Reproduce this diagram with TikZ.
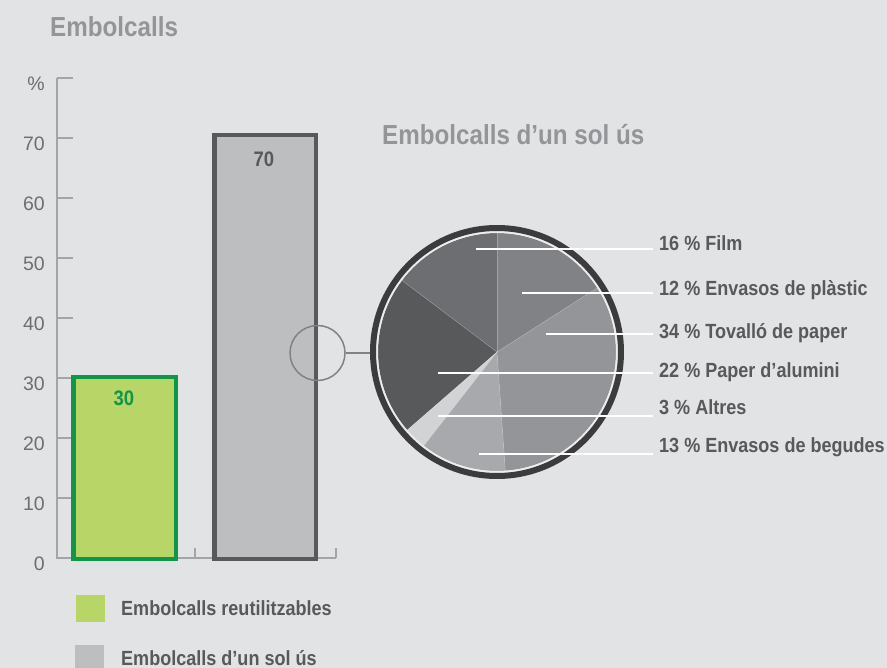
\documentclass[tikz,border=0pt]{standalone}
\usepackage{fontspec}
\setmainfont{Liberation Sans}
\newfontfamily\condfont{Liberation Sans}[FakeStretch=0.88]
\usetikzlibrary{positioning,calc}

\definecolor{bgcol}{HTML}{E2E3E5}
\definecolor{titlegray}{HTML}{939598}
\definecolor{tickgray}{HTML}{6D6E71}
\definecolor{axisgray}{HTML}{A3A5A8}
\definecolor{labgray}{HTML}{58595B}
\definecolor{reusegreen}{HTML}{0F9647}
\definecolor{reusefill}{HTML}{B8D667}
\definecolor{onefill}{HTML}{BCBEC0}
\definecolor{ringdark}{HTML}{3C3C3E}
\definecolor{ringlight}{HTML}{EDEDEE}
\definecolor{loupegray}{HTML}{808285}
\definecolor{filmcol}{HTML}{6D6E71}
\definecolor{placol}{HTML}{808285}
\definecolor{tovcol}{HTML}{939598}
\definecolor{alucol}{HTML}{58595B}
\definecolor{altcol}{HTML}{D1D3D4}
\definecolor{begcol}{HTML}{A7A9AC}

\begin{document}
\begin{tikzpicture}[x=1pt, y=-1pt,
  headtxt/.style={font=\condfont\bfseries\fontsize{27.5}{30}\selectfont, text=titlegray, inner sep=0pt, anchor=base west},
  pielab/.style={font=\condfont\bfseries\fontsize{20.5}{22}\selectfont, text=labgray, inner sep=0pt, anchor=base west},
  barval/.style={font=\condfont\bfseries\fontsize{21}{23}\selectfont, inner sep=0pt, anchor=base},
  ticklab/.style={font=\fontsize{19.5}{21}\selectfont, text=tickgray, inner sep=0pt, anchor=east},
  labline/.style={draw=white, line width=2pt},
  axisline/.style={draw=axisgray, line width=1.5pt}]

% parameters
\def\cx{497}     % pie centre
\def\cy{352}
\def\rpie{119}   % pie radius
\def\yzero{558}  % value 0 on the bar axis
\def\ystep{6}    % px per percent

\fill[bgcol] (0,0) rectangle (887,668);
\useasboundingbox (0,0) rectangle (887,668);

% titles
\node[headtxt] (title) at (50,37) {Embolcalls};
\node[headtxt] (pietitle) at (382,145) {Embolcalls d’un sol ús};

% --- bar axis ---
\draw[axisline] (57,78) -- (57,\yzero) -- (336,\yzero);
\foreach \v/\t in {10/10,20/20,30/30,40/40,50/50,60/60,70/70,80/\%}{
  \draw[axisline] (57,{\yzero-\ystep*\v}) -- (73,{\yzero-\ystep*\v});
}
\foreach \v/\t in {0/0,10/10,20/20,30/30,40/40,50/50,60/60,70/70,80/\%}{
  \node[ticklab] (tick\v) at (45,{\yzero-\ystep*\v+6}) {\t};
}
\draw[axisline] (195,\yzero) -- (195,548);
\draw[axisline] (336,\yzero) -- (336,548);

% --- bars ---
\filldraw[fill=reusefill, draw=reusegreen, line width=4.5pt] (73.25,377.25) rectangle (175.75,558.75);
\filldraw[fill=onefill, draw=labgray, line width=4.5pt] (214.25,135.25) rectangle (315.75,558.75);
\node[barval, text=reusegreen] (val30) at (124,406) {30};
\node[barval, text=labgray] (val70) at (264,166.5) {70};

% --- pie (angles counter-clockwise, y up) ---
\begin{scope}[shift={(\cx,\cy)}, y=1pt]
  \foreach \a/\b/\c in {90/143/filmcol, 143/221/alucol, 221/232/altcol,
                        232/274/begcol, 274/392.6/tovcol, 32.6/90/placol}{
    \fill[\c] (0,0) -- (\a:\rpie) arc[start angle=\a, end angle=\b, radius=\rpie] -- cycle;
  }
  % faint slice edges
  \foreach \a in {90,143,221,232,274,32.6}
    \draw[white, opacity=0.25, line width=0.6pt] (0,0) -- (\a:\rpie);
  \draw[ringlight, line width=2pt] (0,0) circle[radius=120];
  \draw[ringdark, line width=6pt] (0,0) circle[radius=124];
\end{scope}
\node[circle, minimum size=254pt, inner sep=0pt] (pie) at (\cx,\cy) {};

% loupe on the single-use bar
\node[circle, draw=loupegray, line width=1.5pt, minimum size=55pt, inner sep=0pt] (loupe) at (317.5,353) {};
\draw[loupegray, line width=1.5pt] (loupe.east) -- (loupe.east -| pie.west);

% pie labels
\foreach \i/\yl/\yb/\xs/\txt in {1/249/251/476/16 \% Film,
                                 2/293/296/522/12 \% Envasos de plàstic,
                                 3/334/339/546/34 \% Tovalló de paper,
                                 4/373/378/438/22 \% Paper d’alumini,
                                 5/416/415/438/3 \% Altres,
                                 6/454/453/479/13 \% Envasos de begudes}{
  \node[pielab] (lab\i) at (659,\yb) {\txt};
  \coordinate (st\i) at (\xs,\yl);
  \coordinate (en\i) at (653,\yl);
  \draw[labline] (st\i) -- (en\i);
}

% legend
\fill[reusefill] (76,595) rectangle (105,622);
\fill[onefill] (75,645) rectangle (104,670);
\node[pielab] (legreuse) at (121,615) {Embolcalls reutilitzables};
\node[pielab] (legone) at (121,665) {Embolcalls d’un sol ús};

\end{tikzpicture}
\end{document}
